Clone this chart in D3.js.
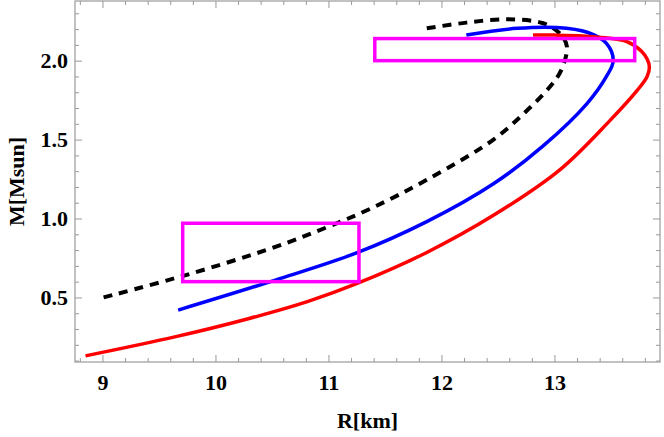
<!DOCTYPE html>
<html>
<head>
<meta charset="utf-8">
<script src="https://cdn.jsdelivr.net/npm/d3@7"></script>
<style>
  body { margin: 0; background: #fff; }
  svg { display: block; }
  .tick text { font-family: "Liberation Serif", "DejaVu Serif", serif; font-weight: bold; font-size: 22px; fill: #000; }
  .tick line, .domain { stroke: #999; }
  .label { font-family: "Liberation Serif", "DejaVu Serif", serif; font-weight: bold; font-size: 22px; }
</style>
</head>
<body>
<div id="chart"></div>
<script>
// curves, ordered along each curve
const redR = [8.85, 9.64, 10.29, 10.82, 11.26, 11.87, 12.46, 13.05, 13.49, 13.73, 13.82, 13.84, 13.82, 13.77, 13.64, 13.45, 13.25, 13.0, 12.81];
const redM = [0.13, 0.25, 0.365, 0.475, 0.59, 0.785, 1.02, 1.31, 1.62, 1.81, 1.90, 1.96, 2.01, 2.06, 2.12, 2.145, 2.157, 2.162, 2.163];

const blueR = [9.67, 10.53, 11.26, 11.87, 12.46, 12.90, 13.29, 13.46, 13.52, 13.46, 13.29, 13.02, 12.67, 12.22];
const blueM = [0.42, 0.61, 0.785, 0.98, 1.22, 1.46, 1.73, 1.90, 2.00, 2.11, 2.18, 2.21, 2.205, 2.163];

const dashR = [9.01, 9.73, 10.53, 10.97, 11.38, 11.87, 12.46, 12.75, 12.96, 13.06, 13.11, 13.05, 12.90, 12.58, 12.22, 11.87];
const dashM = [0.50, 0.64, 0.82, 0.94, 1.065, 1.245, 1.50, 1.68, 1.835, 1.94, 2.09, 2.17, 2.237, 2.262, 2.241, 2.205];

// constraint boxes: [R0, R1, M0, M1]
const boxes = [[9.71, 11.27, 0.60, 0.97], [11.41, 13.71, 2.00, 2.14]];

const xMajor = [9, 10, 11, 12, 13];
const yMajor = [0.5, 1.0, 1.5, 2.0];

const width = 664, height = 437;
const margin = {top: 1, right: 4, bottom: 75, left: 75};

const x = d3.scaleLinear().domain([8.757, 13.934]).range([margin.left, width - margin.right]);
const y = d3.scaleLinear().domain([0.091, 2.378]).range([height - margin.bottom, margin.top]);

const svg = d3.select("#chart").append("svg")
    .attr("width", width)
    .attr("height", height);

const xMinor = d3.range(8.8, 13.95, 0.2).map(v => +v.toFixed(1)).filter(v => !xMajor.includes(v));
const yMinor = d3.range(0.1, 2.38, 0.1).map(v => +v.toFixed(1)).filter(v => !yMajor.includes(v));

const y0 = height - margin.bottom, y1 = margin.top;
const x0 = margin.left, x1 = width - margin.right;

// inward ticks on all four sides
function addAxis(axis, tr, cls) {
    svg.append("g").attr("class", cls).attr("transform", tr).call(axis)
        .call(g => g.select(".domain").remove());
}
addAxis(d3.axisBottom(x).tickValues(xMajor).tickSize(-7).tickPadding(12).tickFormat(d3.format("d")), `translate(0,${y0})`, "xaxis");
addAxis(d3.axisBottom(x).tickValues(xMinor).tickSize(-4).tickFormat(""), `translate(0,${y0})`, "xminor");
addAxis(d3.axisTop(x).tickValues(xMajor).tickSize(-7).tickFormat(""), `translate(0,${y1})`, "xtop");
addAxis(d3.axisTop(x).tickValues(xMinor).tickSize(-4).tickFormat(""), `translate(0,${y1})`, "xtopminor");
addAxis(d3.axisLeft(y).tickValues(yMajor).tickSize(-7).tickPadding(7).tickFormat(d3.format(".1f")), `translate(${x0},0)`, "yaxis");
addAxis(d3.axisLeft(y).tickValues(yMinor).tickSize(-4).tickFormat(""), `translate(${x0},0)`, "yminor");
addAxis(d3.axisRight(y).tickValues(yMajor).tickSize(-7).tickFormat(""), `translate(${x1},0)`, "yright");
addAxis(d3.axisRight(y).tickValues(yMinor).tickSize(-4).tickFormat(""), `translate(${x1},0)`, "yrightminor");

svg.append("rect")
    .attr("x", x0).attr("y", y1)
    .attr("width", x1 - x0).attr("height", y0 - y1)
    .attr("fill", "none").attr("stroke", "#999").attr("stroke-width", 1.2);

const line = d3.line()
    .x(d => x(d[0]))
    .y(d => y(d[1]))
    .curve(d3.curveCatmullRom.alpha(0.5));

const plot = svg.append("g");

plot.append("path")
    .datum(dashR.map((r, i) => [r, dashM[i]]))
    .attr("d", line)
    .attr("fill", "none").attr("stroke", "#000")
    .attr("stroke-width", 4).attr("stroke-dasharray", "9,7");

plot.append("path")
    .datum(blueR.map((r, i) => [r, blueM[i]]))
    .attr("d", line)
    .attr("fill", "none").attr("stroke", "#0000ff").attr("stroke-width", 3.5);

plot.append("path")
    .datum(redR.map((r, i) => [r, redM[i]]))
    .attr("d", line)
    .attr("fill", "none").attr("stroke", "#ff0000").attr("stroke-width", 3.5);

plot.selectAll("rect.box")
    .data(boxes)
    .enter().append("rect")
    .attr("class", "box")
    .attr("x", d => x(d[0]))
    .attr("y", d => y(d[3]))
    .attr("width", d => x(d[1]) - x(d[0]))
    .attr("height", d => y(d[2]) - y(d[3]))
    .attr("fill", "none").attr("stroke", "#ff00ff").attr("stroke-width", 3.5);

svg.append("text")
    .attr("class", "label")
    .attr("x", (x0 + x1) / 2)
    .attr("y", 428)
    .attr("text-anchor", "middle")
    .text("R[km]");

svg.append("text")
    .attr("class", "label")
    .attr("transform", `translate(24,${(y0 + y1) / 2}) rotate(-90)`)
    .attr("text-anchor", "middle")
    .text("M[Msun]");
</script>
</body>
</html>
